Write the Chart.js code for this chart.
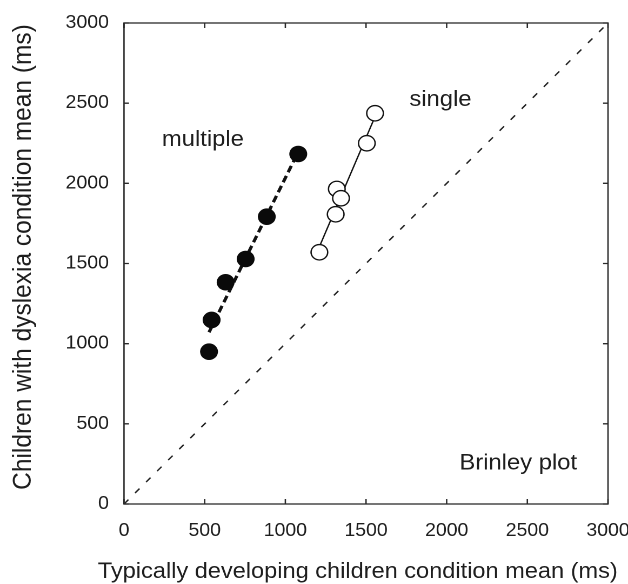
<!DOCTYPE html>
<html><head><meta charset="utf-8">
<script src="https://cdn.jsdelivr.net/npm/chart.js@4.4.1/dist/chart.umd.min.js"></script>
<style>
html,body{margin:0;padding:0;background:#fff;overflow:hidden;width:628px;height:584px;}
#wrap{position:absolute;left:0;top:0;width:581px;height:584px;transform:scaleX(1.0809);transform-origin:0 0;}
</style></head><body>
<div id="wrap"><canvas id="c"></canvas></div>
<script>
const axisTicks = [0, 500, 1000, 1500, 2000, 2500, 3000];
const multipleX = [527, 543, 630, 754, 885, 1080];
const multipleY = [950, 1148, 1383, 1528, 1792, 2183];
const singleX = [1211, 1312, 1319, 1345, 1505, 1556];
const singleY = [1570, 1807, 1965, 1907, 2250, 2437];
const seriesNames = ['multiple', 'single'];
const xTitle = 'Typically developing children condition mean (ms)';
const yTitle = 'Children with dyslexia condition mean (ms)';
const noteText = 'Brinley plot';

const FONT = "'Liberation Sans', Arial, Helvetica, sans-serif";
const INK = '#1e1e1e';

function zip(xs, ys) { return xs.map((v, i) => ({x: v, y: ys[i]})); }
function fitLine(xs, ys) {
  const n = xs.length;
  const mx = xs.reduce((a, b) => a + b, 0) / n;
  const my = ys.reduce((a, b) => a + b, 0) / n;
  let sxy = 0, sxx = 0;
  for (let i = 0; i < n; i++) { sxy += (xs[i] - mx) * (ys[i] - my); sxx += (xs[i] - mx) ** 2; }
  const b = sxy / sxx, a = my - b * mx;
  const x0 = Math.min(...xs), x1 = Math.max(...xs);
  return [{x: x0, y: a + b * x0}, {x: x1, y: a + b * x1}];
}

const framePlugin = {
  id: 'framePlugin',
  afterDraw(chart) {
    const {ctx, chartArea: a, scales: {x, y}} = chart;
    ctx.save();
    ctx.strokeStyle = '#2a2a2a';
    ctx.lineWidth = 1.3;
    ctx.strokeRect(a.left, a.top, a.right - a.left, a.bottom - a.top);
    ctx.beginPath();
    const tv = 5, th = 4.6;
    x.ticks.forEach(t => {
      const px = x.getPixelForValue(t.value);
      ctx.moveTo(px, a.bottom); ctx.lineTo(px, a.bottom - tv);
      ctx.moveTo(px, a.top); ctx.lineTo(px, a.top + tv);
    });
    y.ticks.forEach(t => {
      const py = y.getPixelForValue(t.value);
      ctx.moveTo(a.left, py); ctx.lineTo(a.left + th, py);
      ctx.moveTo(a.right, py); ctx.lineTo(a.right - th, py);
    });
    ctx.stroke();

    ctx.fillStyle = INK;
    ctx.textBaseline = 'alphabetic';
    ctx.textAlign = 'left';
    ctx.font = '22px ' + FONT;
    ctx.fillText(seriesNames[0], x.getPixelForValue(235), y.getPixelForValue(2233));
    ctx.fillText(seriesNames[1], x.getPixelForValue(1769), y.getPixelForValue(2483));
    ctx.fillText(noteText, x.getPixelForValue(2079), y.getPixelForValue(216));

    ctx.font = '21.8px ' + FONT;
    ctx.textAlign = 'center';
    ctx.fillText(xTitle, 331, 578);

    ctx.save();
    ctx.font = '24.5px ' + FONT;
    ctx.translate(28.7, 257);
    ctx.rotate(-Math.PI / 2);
    ctx.textAlign = 'center';
    ctx.fillText(yTitle, 0, 0);
    ctx.restore();
    ctx.restore();
  }
};

const tickFont = {size: 18, family: FONT};
const plainLabel = v => String(v);

new Chart(document.getElementById('c'), {
  data: {
    datasets: [
      {type: 'line', label: 'identity',
       data: [{x: axisTicks[0], y: axisTicks[0]}, {x: axisTicks[axisTicks.length - 1], y: axisTicks[axisTicks.length - 1]}],
       borderColor: '#222', borderWidth: 1.4, borderDash: [6, 9], pointRadius: 0, order: 3},
      {type: 'line', label: 'multiple fit', data: fitLine(multipleX, multipleY),
       borderColor: '#111', borderWidth: 3, borderDash: [7, 4], pointRadius: 0, order: 2},
      {type: 'line', label: 'single fit', data: fitLine(singleX, singleY),
       borderColor: '#111', borderWidth: 1.3, pointRadius: 0, order: 2},
      {type: 'scatter', label: seriesNames[0], data: zip(multipleX, multipleY),
       backgroundColor: '#0a0a0a', borderColor: '#0a0a0a', borderWidth: 0, pointRadius: 8.3, order: 1},
      {type: 'scatter', label: seriesNames[1], data: zip(singleX, singleY),
       backgroundColor: '#ffffff', borderColor: '#111', borderWidth: 1.3, pointRadius: 7.7, order: 1}
    ]
  },
  options: {
    responsive: true,
    maintainAspectRatio: false,
    animation: false,
    devicePixelRatio: 2,
    layout: {padding: {top: 23, right: 18.5, left: 0, bottom: 0}},
    plugins: {legend: {display: false}, tooltip: {enabled: false}},
    scales: {
      x: {
        type: 'linear', position: 'bottom',
        min: axisTicks[0], max: axisTicks[axisTicks.length - 1],
        grid: {display: false}, border: {display: false},
        ticks: {font: tickFont, color: INK, padding: 8, maxRotation: 0, callback: plainLabel},
        afterBuildTicks: s => { s.ticks = axisTicks.map(v => ({value: v})); },
        afterFit: s => { s.height = 80; s.paddingLeft = 0; s.paddingRight = 0; }
      },
      y: {
        type: 'linear', position: 'left',
        min: axisTicks[0], max: axisTicks[axisTicks.length - 1],
        grid: {display: false}, border: {display: false},
        ticks: {font: tickFont, color: INK, padding: 6, callback: plainLabel},
        afterBuildTicks: s => { s.ticks = axisTicks.map(v => ({value: v})); },
        afterFit: s => { s.width = 114.72; s.paddingTop = 0; s.paddingBottom = 0; }
      }
    }
  },
  plugins: [framePlugin]
});
</script>
</body></html>
